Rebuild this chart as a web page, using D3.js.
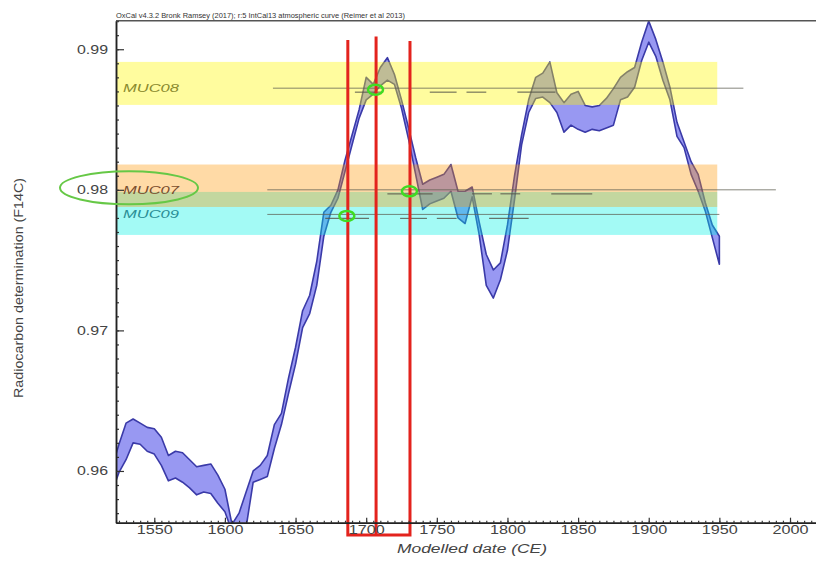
<!DOCTYPE html>
<html lang="en">
<head>
    <meta charset="UTF-8">
    <title>OxCal IntCal13 wiggle plot</title>
    <script src="https://d3js.org/d3.v7.min.js"></script>
    <style>
        body { margin: 0; background: #fff; }
        .chart text { font-family: 'Liberation Sans', Arial, sans-serif; }
    </style>
</head>
<body>
    <div class="chart"></div>
    <script>
    // IntCal13 curve, upper / lower envelope (F14C)
    const years = [1520, 1525, 1530, 1535, 1540, 1545, 1550, 1555, 1560, 1565, 1570, 1575, 1580, 1585, 1590,
        1595, 1600, 1605, 1610, 1615, 1620, 1625, 1630, 1635, 1640, 1645, 1650, 1655, 1660, 1665, 1670,
        1675, 1680, 1685, 1690, 1695, 1700, 1705, 1710, 1715, 1720, 1725, 1730, 1735, 1740, 1745, 1750,
        1755, 1760, 1765, 1770, 1775, 1780, 1785, 1790, 1795, 1800, 1805, 1810, 1815, 1820, 1825, 1830,
        1835, 1840, 1845, 1850, 1855, 1860, 1865, 1870, 1875, 1880, 1885, 1890, 1895, 1900, 1905, 1910,
        1915, 1920, 1925, 1930, 1935, 1940, 1945, 1950]
    const upper = [0.9602, 0.9619, 0.9634, 0.9637, 0.9634, 0.9631, 0.9630, 0.9624, 0.9611, 0.9614, 0.9613, 0.9608, 0.9603, 0.9604, 0.9605,
        0.9597, 0.9587, 0.9562, 0.9570, 0.9585, 0.9600, 0.9604, 0.9611, 0.9633, 0.9641, 0.9666, 0.9688, 0.9714, 0.9725, 0.9749, 0.9784,
        0.9789, 0.9800, 0.9821, 0.9839, 0.9857, 0.9880, 0.9875, 0.9887, 0.9894, 0.9882, 0.9864, 0.9844, 0.9823, 0.9804, 0.9807, 0.9809,
        0.9811, 0.9818, 0.9799, 0.9799, 0.9802, 0.9777, 0.9754, 0.9743, 0.9748, 0.9775, 0.9810, 0.9839, 0.9864, 0.9880, 0.9883, 0.9891,
        0.9869, 0.9862, 0.9868, 0.9870, 0.9860, 0.9859, 0.9860, 0.9865, 0.9872, 0.9880, 0.9884, 0.9887, 0.9905, 0.9920, 0.9907, 0.9891,
        0.9873, 0.9848, 0.9834, 0.9820, 0.9811, 0.9791, 0.9775, 0.9767]
    const lower = [0.9585, 0.9599, 0.9608, 0.9620, 0.9619, 0.9614, 0.9612, 0.9604, 0.9593, 0.9595, 0.9592, 0.9588, 0.9583, 0.9585, 0.9584,
        0.9577, 0.9571, 0.9557, 0.9551, 0.9560, 0.9592, 0.9594, 0.9596, 0.9616, 0.9633, 0.9655, 0.9676, 0.9702, 0.9712, 0.9732, 0.9767,
        0.9784, 0.9794, 0.9813, 0.9832, 0.9851, 0.9864, 0.9868, 0.9874, 0.9878, 0.9875, 0.9858, 0.9836, 0.9811, 0.9786, 0.9790, 0.9792,
        0.9794, 0.9799, 0.9780, 0.9776, 0.9795, 0.9768, 0.9732, 0.9723, 0.9736, 0.9757, 0.9793, 0.9832, 0.9855, 0.9865, 0.9866, 0.9862,
        0.9855, 0.9841, 0.9846, 0.9843, 0.9841, 0.9843, 0.9842, 0.9844, 0.9846, 0.9864, 0.9866, 0.9873, 0.9892, 0.9905, 0.9895, 0.9878,
        0.9864, 0.9838, 0.9830, 0.9811, 0.9799, 0.9785, 0.9766, 0.9747]

    // samples: measured F14C mean +- 1 sigma
    const samples = ['MUC08', 'MUC07', 'MUC09']
    const sampleMean = [0.98757, 0.98029, 0.97832]
    const sampleSigma = [0.00153, 0.00151, 0.00153]
    const bandYears = [1520, 1948.5]
    // distribution baseline of each sample and its span in years
    const baseF = [0.98723, 0.98000, 0.97825]
    const baseSpan = [[1634, 1967], [1630, 1990], [1630, 1950]]
    // calibrated ranges drawn under each baseline
    const sampleRanges = [
        [[1692, 1712], [1745, 1764], [1771, 1785], [1807, 1834]],
        [[1715, 1747], [1775, 1789], [1795, 1809], [1831, 1860]],
        [[1671, 1702], [1724, 1743], [1750, 1764], [1787, 1815]]
    ]
    // highlighted intersections (green rings) and red markers
    const markYears = [1706.6, 1730.6, 1686.3]
    const redYears = [1687, 1707, 1731]
    const redTop = [0.99066, 0.99090, 0.99059]
    const redBottom = 0.95545

    const xTicks = [1550, 1600, 1650, 1700, 1750, 1800, 1850, 1900, 1950, 2000]
    const yTicks = [0.96, 0.97, 0.98, 0.99]
    const title = 'OxCal v4.3.2 Bronk Ramsey (2017); r:5 IntCal13 atmospheric curve (Reimer et al 2013)'

    const bandFill = { MUC08: 'rgba(255,248,0,0.38)', MUC07: 'rgba(255,150,0,0.35)', MUC09: 'rgba(0,240,228,0.36)' }
    const labelFill = { MUC08: '#8a8a2e', MUC07: '#7a4e2e', MUC09: '#2a8e96' }

    const svgWidth = 816, svgHeight = 564
    const pLeft = 116, pTop = 20.7, pRight = 816, pBottom = 522.7

    const svg = d3.select('.chart').append('svg')
        .attr('width', svgWidth)
        .attr('height', svgHeight)

    const xScale = d3.scaleLinear().domain([1522.9, 2018.4]).range([pLeft, pRight])
    const yScale = d3.scaleLinear().domain([0.95632, 0.99203]).range([pBottom, pTop])

    svg.append('clipPath').attr('id', 'plot')
        .append('rect')
        .attr('x', pLeft).attr('y', pTop)
        .attr('width', pRight - pLeft).attr('height', pBottom - pTop)

    // calibration curve
    const curve = years.map((y, i) => ({ year: y, hi: upper[i], lo: lower[i] }))
    const area = d3.area()
        .x(d => xScale(d.year))
        .y0(d => yScale(d.lo))
        .y1(d => yScale(d.hi))
    svg.append('path')
        .datum(curve)
        .attr('clip-path', 'url(#plot)')
        .attr('d', area)
        .attr('fill', 'rgb(152,152,242)')
        .attr('stroke', 'rgb(58,58,168)')
        .attr('stroke-width', 1.6)
        .attr('stroke-linejoin', 'round')

    // sample bands, drawn over the curve (cyan first so orange sits on top)
    const order = [2, 1, 0]
    svg.append('g').selectAll('rect')
        .data(order)
        .enter()
        .append('rect')
        .attr('x', xScale(bandYears[0]))
        .attr('width', xScale(bandYears[1]) - xScale(bandYears[0]))
        .attr('y', i => yScale(sampleMean[i] + sampleSigma[i]))
        .attr('height', i => yScale(sampleMean[i] - sampleSigma[i]) - yScale(sampleMean[i] + sampleSigma[i]))
        .attr('clip-path', 'url(#plot)')
        .attr('fill', i => bandFill[samples[i]])

    // baselines + ranges
    const dist = svg.append('g')
    samples.forEach((s, i) => {
        dist.append('line')
            .attr('x1', xScale(baseSpan[i][0])).attr('x2', xScale(baseSpan[i][1]))
            .attr('y1', yScale(baseF[i])).attr('y2', yScale(baseF[i]))
            .attr('stroke', '#5e5e52').attr('stroke-opacity', 0.75).attr('stroke-width', 1)
        dist.selectAll('.r' + i)
            .data(sampleRanges[i])
            .enter()
            .append('line')
            .attr('x1', d => xScale(d[0])).attr('x2', d => xScale(d[1]))
            .attr('y1', yScale(baseF[i]) + 4).attr('y2', yScale(baseF[i]) + 4)
            .attr('stroke', '#55554a').attr('stroke-opacity', 0.8).attr('stroke-width', 1.2)
    })

    // sample labels
    svg.append('g').selectAll('text')
        .data(samples)
        .enter()
        .append('text')
        .attr('x', 123)
        .attr('y', (d, i) => yScale(baseF[i]) + 4)
        .attr('font-size', 11)
        .attr('font-style', 'italic')
        .attr('textLength', 56)
        .attr('lengthAdjust', 'spacingAndGlyphs')
        .attr('fill', d => labelFill[d])
        .text(d => d)

    // red markers
    const xr = redYears.map(d => xScale(d))
    svg.append('path')
        .attr('d', `M${xr[0]},${yScale(redTop[0])} V${yScale(redBottom)} H${xr[2]} V${yScale(redTop[2])}`)
        .attr('fill', 'none')
        .attr('stroke', '#e3231d')
        .attr('stroke-width', 3)
    svg.append('line')
        .attr('x1', xr[1]).attr('x2', xr[1])
        .attr('y1', yScale(redTop[1])).attr('y2', yScale(redBottom))
        .attr('stroke', '#e3231d')
        .attr('stroke-width', 3)

    // green rings
    svg.append('g').selectAll('ellipse')
        .data(markYears)
        .enter()
        .append('ellipse')
        .attr('cx', d => xScale(d))
        .attr('cy', (d, i) => yScale(baseF[i]) + 1.5)
        .attr('rx', 7.5).attr('ry', 5)
        .attr('fill', 'none')
        .attr('stroke', '#3fdc22')
        .attr('stroke-width', 2.5)

    // axes
    const yAxis = d3.axisLeft(yScale)
        .tickValues(yTicks)
        .tickSize(-8)
        .tickSizeOuter(0)
        .tickPadding(8)
        .tickFormat(d3.format('.2f'))
    const yMinor = d3.axisLeft(yScale)
        .tickValues(d3.range(0.957, 0.992, 0.001))
        .tickSize(-3)
        .tickSizeOuter(0)
        .tickFormat('')
    const xAxis = d3.axisBottom(xScale)
        .tickValues(xTicks)
        .tickSize(-5)
        .tickSizeOuter(0)
        .tickPadding(3)
        .tickFormat(d3.format('d'))
    const xMinor = d3.axisBottom(xScale)
        .tickValues(d3.range(1525, 2020, 5))
        .tickSize(-2)
        .tickSizeOuter(0)
        .tickFormat('')

    svg.append('g').attr('transform', `translate(${pLeft},0)`).call(yMinor)
    const gy = svg.append('g').attr('transform', `translate(${pLeft},0)`).call(yAxis)
    svg.append('g').attr('transform', `translate(0,${pBottom})`).call(xMinor)
    const gx = svg.append('g').attr('transform', `translate(0,${pBottom})`).call(xAxis)

    svg.selectAll('.domain').attr('stroke', '#222').attr('stroke-width', 1.5)
    svg.selectAll('.tick line').attr('stroke', '#333').attr('stroke-width', 1.2)
    gy.selectAll('text').attr('font-size', 12.5).attr('fill', '#444')
        .attr('textLength', 31).attr('lengthAdjust', 'spacingAndGlyphs')
    gx.selectAll('text').attr('font-size', 12).attr('fill', '#444')
        .attr('textLength', 36).attr('lengthAdjust', 'spacingAndGlyphs')

    // top frame
    svg.append('line')
        .attr('x1', pLeft).attr('x2', pRight)
        .attr('y1', pTop).attr('y2', pTop)
        .attr('stroke', '#555').attr('stroke-width', 1.5)

    // big ring around the 0.98 / MUC07 label
    svg.append('ellipse')
        .attr('cx', pLeft + 13).attr('cy', yScale(0.98) - 2)
        .attr('rx', 69).attr('ry', 16.5)
        .attr('fill', 'none')
        .attr('stroke', '#66c846')
        .attr('stroke-width', 2)

    // titles
    svg.append('text')
        .attr('x', pLeft).attr('y', 17.5)
        .attr('font-size', 8)
        .attr('fill', '#333')
        .attr('textLength', 289).attr('lengthAdjust', 'spacingAndGlyphs')
        .text(title)
    svg.append('text')
        .attr('transform', 'translate(23,288) rotate(-90)')
        .attr('text-anchor', 'middle')
        .attr('font-size', 13)
        .attr('fill', '#444')
        .attr('textLength', 220).attr('lengthAdjust', 'spacingAndGlyphs')
        .text('Radiocarbon determination (F14C)')
    svg.append('text')
        .attr('x', 472).attr('y', 553)
        .attr('text-anchor', 'middle')
        .attr('font-size', 12)
        .attr('font-style', 'italic')
        .attr('fill', '#444')
        .attr('textLength', 150).attr('lengthAdjust', 'spacingAndGlyphs')
        .text('Modelled date (CE)')
    </script>
</body>
</html>
